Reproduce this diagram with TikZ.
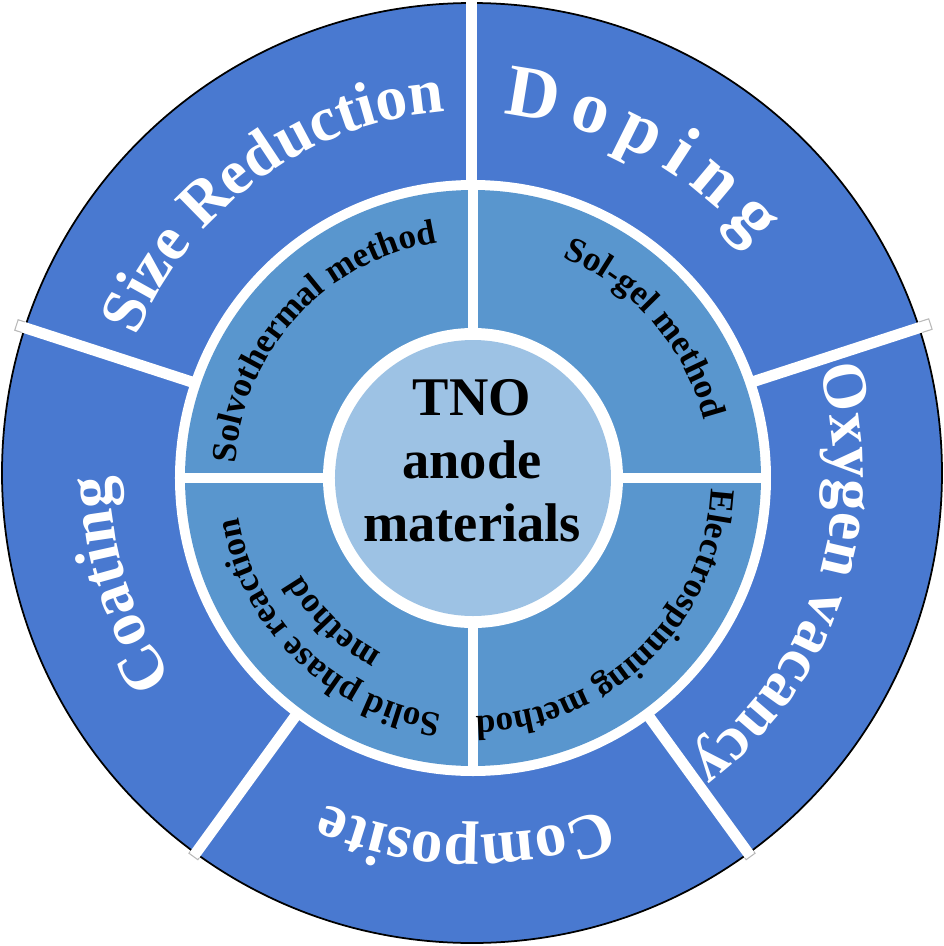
\documentclass[tikz,border=0pt]{standalone}
\usepackage{fontspec}
\setmainfont{Liberation Serif}
\usetikzlibrary{decorations.text}

\definecolor{ringouter}{RGB}{73,121,208}
\definecolor{ringinner}{RGB}{89,150,206}
\definecolor{hubfill}{RGB}{157,194,228}

\newcommand{\outerfont}{\fontsize{18}{21}\selectfont\bfseries}
\newcommand{\wideouterfont}{\fontsize{21}{24}\selectfont\bfseries}
\newcommand{\innerfont}{\fontsize{10}{12}\selectfont\bfseries}

\begin{document}
\begin{tikzpicture}[
	outer text/.style = {decorate,decoration={text along path,text align=center,text color=white,text={|\outerfont|#1}}},
	inner text/.style = {decorate,decoration={text along path,text align=center,text color=black,text={|\innerfont|#1}}},
	divider/.style = {white,line width=0.11cm},
	stub/.style = {fill=white,draw=gray!55,line width=0.3pt}
	]

	\useasboundingbox (-4.72,-4.73) rectangle (4.72,4.73);

	\coordinate (O) at (0,0);
	\coordinate (C) at (0.01,-0.05);

	% ends of the spokes that stick out of the wheel
	\foreach \a/\r in {18/4.82,-54/4.74,-126/4.74,162/4.79}
		\draw[stub,rotate=\a] (4.55,-0.055) rectangle (\r,0.055);

	\draw[fill=ringouter,line width=0.5pt] (O) circle (4.70);
	\foreach \a in {90,18,-54,-126,162}
		\draw[divider] (\a:2.9) -- (\a:4.72);

	\fill[white] (C) circle (2.98);
	\fill[ringinner] (C) circle (2.88);
	\foreach \a in {0,90,180,270}
		\draw[divider,line width=0.1cm,shift={(C)}] (\a:1.4) -- (\a:2.92);

	\fill[white] (C) circle (1.50);
	\fill[hubfill] (C) circle (1.38);

	\node[align=center,font=\fontsize{15.5}{18}\selectfont\bfseries] (hub) at (0,0.125) {TNO\\anode\\materials};

	\path[outer text=Size Reduction] (161:3.62) arc[start angle=161,end angle=91,radius=3.62];
	\path[outer text=Doping,decoration={text={|\wideouterfont|Doping},text align=fit to path}] (85:3.60) arc[start angle=85,end angle=39,radius=3.60];
	\path[outer text=Oxygen vacancy] (18:3.62) arc[start angle=18,end angle=-54,radius=3.62];
	\path[outer text=Composite] (-56:3.62) arc[start angle=-56,end angle=-126,radius=3.62];
	\path[outer text=Coating] (232.5:3.62) arc[start angle=232.5,end angle=162.5,radius=3.62];

	\begin{scope}[shift={(C)}]
		\path[inner text=Solvothermal method] (181.5:2.38) arc[start angle=181.5,end angle=93.5,radius=2.38];
		\path[inner text=Sol-gel method] (85:2.38) arc[start angle=85,end angle=-3,radius=2.38];
		\path[inner text=Electrospinning method] (-1:2.38) arc[start angle=-1,end angle=-91,radius=2.38];
		\path[inner text=Solid phase reaction] (270:2.38) arc[start angle=270,end angle=182,radius=2.38];
		\path[inner text=method] (270:1.97) arc[start angle=270,end angle=182,radius=1.97];
	\end{scope}

\end{tikzpicture}
\end{document}
